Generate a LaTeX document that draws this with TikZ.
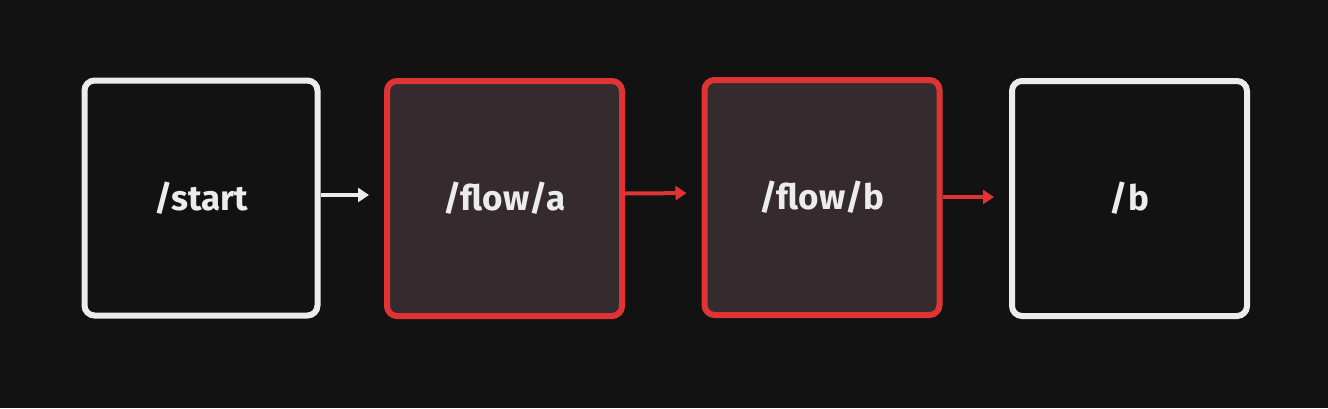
\documentclass[tikz,border=0pt]{standalone}
\usepackage{fontspec}
\setmainfont{Fira Sans}
\usetikzlibrary{arrows.meta}
\definecolor{bgc}{HTML}{121212}
\definecolor{whitec}{HTML}{ECECEC}
\definecolor{redc}{HTML}{E03434}
\definecolor{fillc}{HTML}{352A2D}
\tikzset{
  box/.style={draw, line width=6pt, rounded corners=10pt, minimum width=233pt, minimum height=235pt,
    inner sep=0pt, text=whitec, font=\fontsize{35}{40}\bfseries\selectfont},
  plainbox/.style={box, draw=whitec, fill=bgc},
  redbox/.style={box, draw=redc, fill=fillc, minimum width=235pt},
  conn/.style={line width=4pt, -{Triangle[length=11pt,width=14pt]}, shorten >=15pt},
}
\begin{document}
\begin{tikzpicture}[x=1pt,y=-1pt]
\fill[bgc] (0,0) rectangle (1328,408);
\useasboundingbox (0,0) rectangle (1328,408);
\node[plainbox] (start) at (201,198) {/start};
\node[redbox] (fa) at (504.5,198.5) {/flow/a};
\node[redbox] (fb) at (822,197.5) {/flow/b};
\node[plainbox, minimum width=235pt] (b) at (1129.5,198.5) {/b};
\draw[conn, whitec] ([yshift=3pt]start.east) -- ([yshift=3.5pt]fa.west);
\draw[conn, redc] ([yshift=5pt]fa.east) -- ([yshift=4.5pt]fb.west);
\draw[conn, redc] ([yshift=0.5pt]fb.east) -- ([yshift=1.5pt]b.west);
\end{tikzpicture}
\end{document}
